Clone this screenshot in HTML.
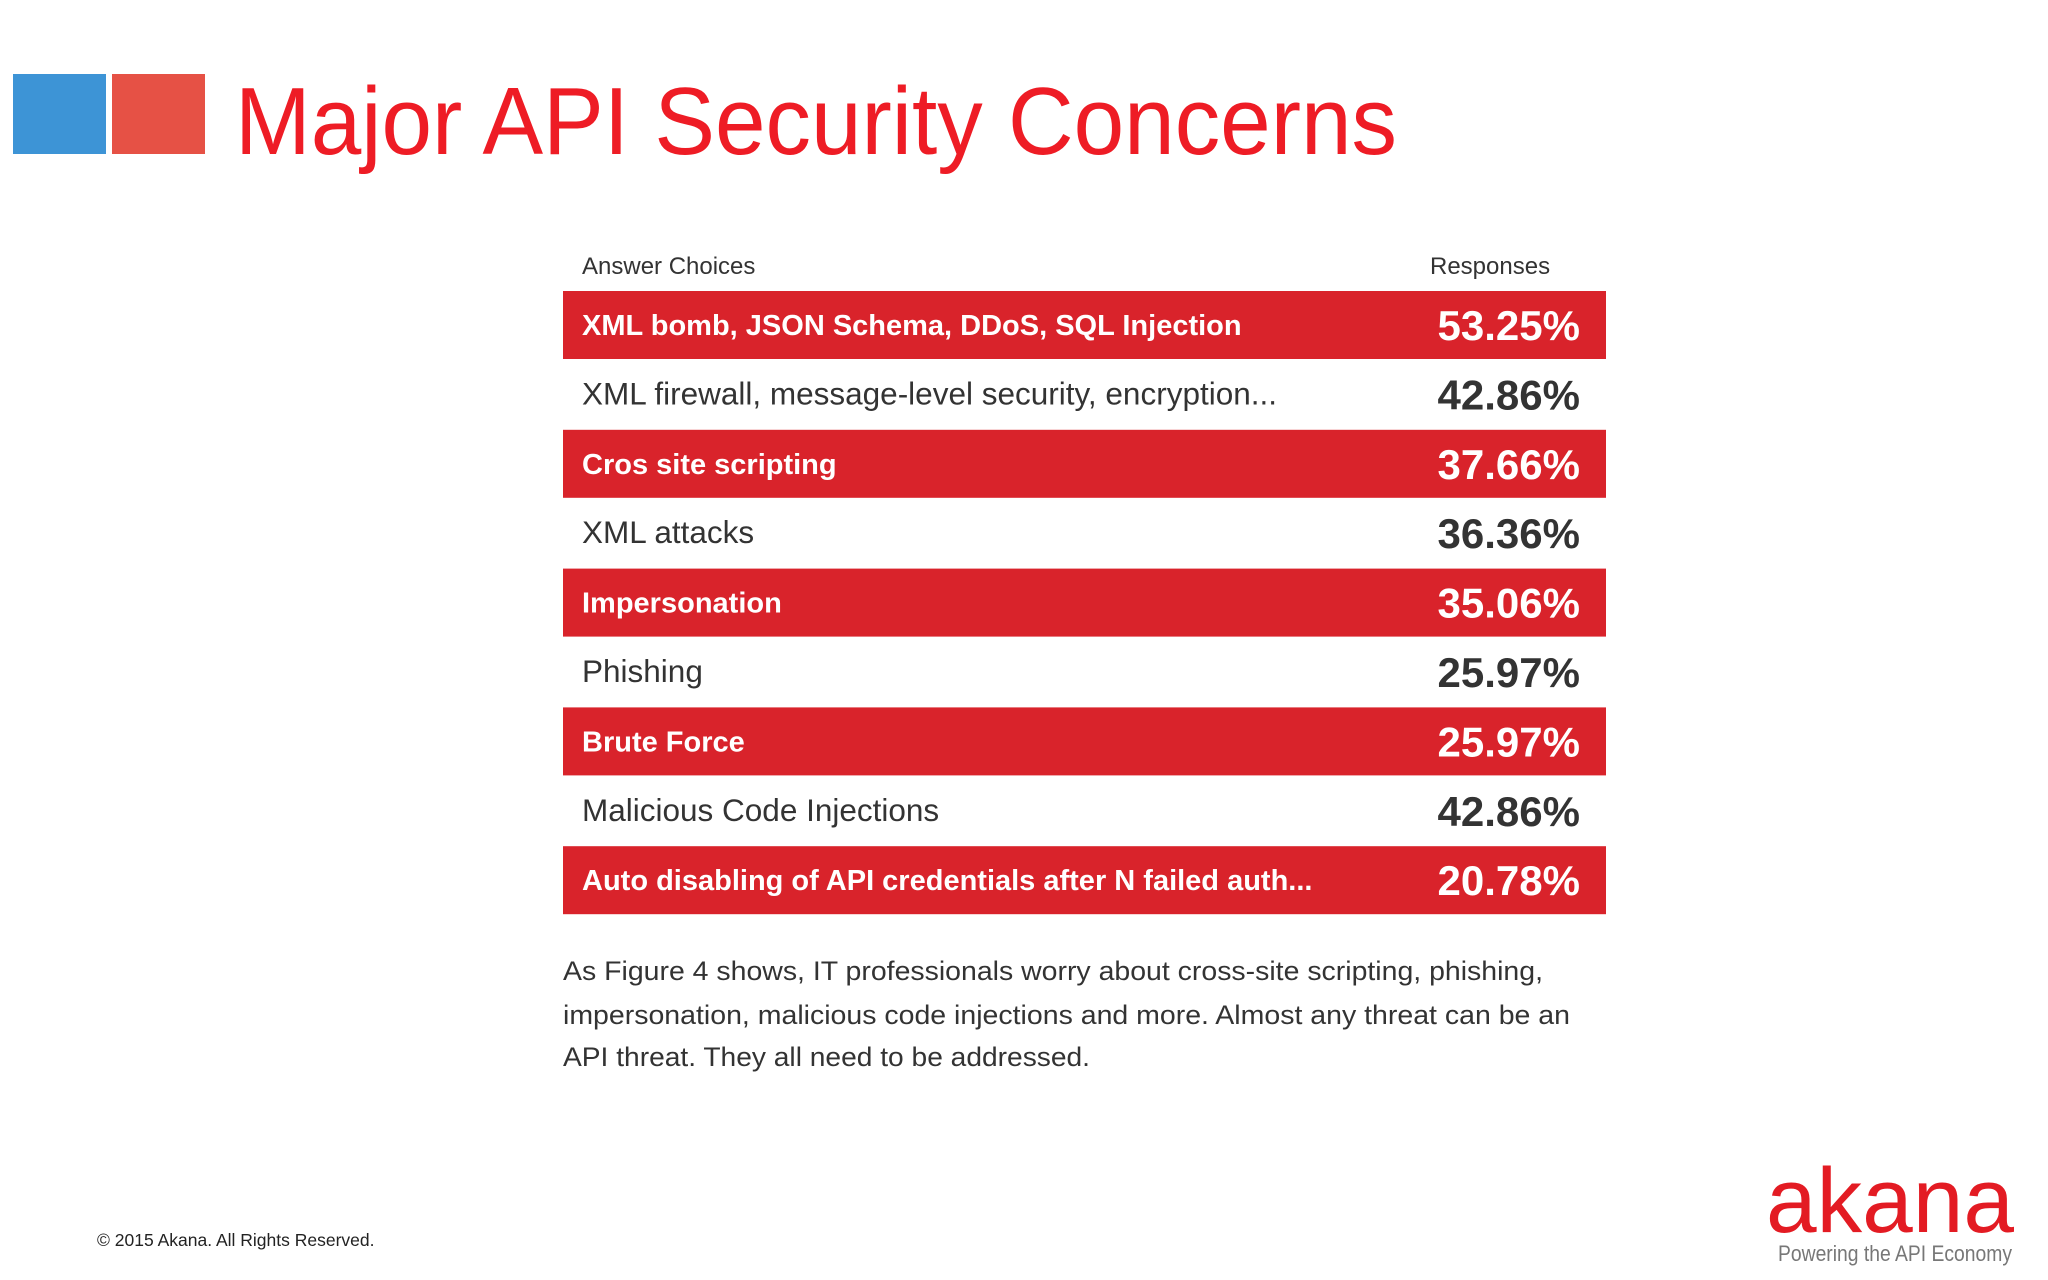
<!DOCTYPE html>
<html><head><meta charset="utf-8"><style>
html,body{margin:0;padding:0;background:#fff;}
svg{display:block;font-family:"Liberation Sans",sans-serif;}
</style></head><body>
<svg id="slide" width="2048" height="1280" viewBox="0 0 2048 1280" xmlns="http://www.w3.org/2000/svg">
<rect x="13" y="74" width="93" height="80" fill="#3d94d6"/>
<rect x="112" y="74" width="93" height="80" fill="#e65145"/>
<text x="235" y="154" font-size="96" fill="#ee1c25" textLength="1162" lengthAdjust="spacingAndGlyphs">Major API Security Concerns</text>
<text x="582" y="274" font-size="24" fill="#333">Answer Choices</text>
<text x="1430" y="274" font-size="24" fill="#333">Responses</text>
<g id="rows"></g>
<text x="563" y="980" font-size="27" fill="#333" textLength="980" lengthAdjust="spacingAndGlyphs">As Figure 4 shows, IT professionals worry about cross-site scripting, phishing,</text>
<text x="563" y="1024" font-size="27" fill="#333" textLength="1007" lengthAdjust="spacingAndGlyphs">impersonation, malicious code injections and more. Almost any threat can be an</text>
<text x="563" y="1066" font-size="27" fill="#333" textLength="527" lengthAdjust="spacingAndGlyphs">API threat. They all need to be addressed.</text>
<text x="97" y="1246" font-size="17.5" fill="#222">© 2015 Akana. All Rights Reserved.</text>
<text x="1766" y="1232" font-size="92" fill="#e31b23" textLength="248" lengthAdjust="spacingAndGlyphs">akana</text>
<text x="1778" y="1261" font-size="22" fill="#777" textLength="234" lengthAdjust="spacingAndGlyphs">Powering the API Economy</text>
</svg>
<script>
const labels = ["XML bomb, JSON Schema, DDoS, SQL Injection","XML firewall, message-level security, encryption...","Cros site scripting","XML attacks","Impersonation","Phishing","Brute Force","Malicious Code Injections","Auto disabling of API credentials after N failed auth..."];
const values = [53.25,42.86,37.66,36.36,35.06,25.97,25.97,42.86,20.78];
const NS="http://www.w3.org/2000/svg";
const g=document.getElementById('rows');
const top0=291, pitch=69.4, x0=563, x1=1606;
function rowY(i){return top0+i*pitch;}
labels.forEach((lab,i)=>{
  const y=rowY(i);
  const red=i%2===0;
  if(red){
    const r=document.createElementNS(NS,'rect');
    
    
    r.setAttribute('x',x0);r.setAttribute('y',y);r.setAttribute('width',x1-x0);r.setAttribute('height',68);
    r.setAttribute('fill','#d9232b');g.appendChild(r);
  }
  const t=document.createElementNS(NS,'text');
  
  
  t.setAttribute('x',582);t.setAttribute('y',y+44);
  t.setAttribute('font-size',red?'29':'31.5');
  t.setAttribute('fill',red?'#fff':'#333');
  if(red)t.setAttribute('font-weight','bold');
  t.textContent=lab;g.appendChild(t);
  const v=document.createElementNS(NS,'text');
  
  
  v.setAttribute('x',1580);v.setAttribute('y',y+49);
  v.setAttribute('font-size','42');v.setAttribute('font-weight','bold');
  v.setAttribute('text-anchor','end');
  v.setAttribute('fill',red?'#fff':'#333');
  v.textContent=values[i].toFixed(2)+'%';g.appendChild(v);
});
</script>
</body></html>
